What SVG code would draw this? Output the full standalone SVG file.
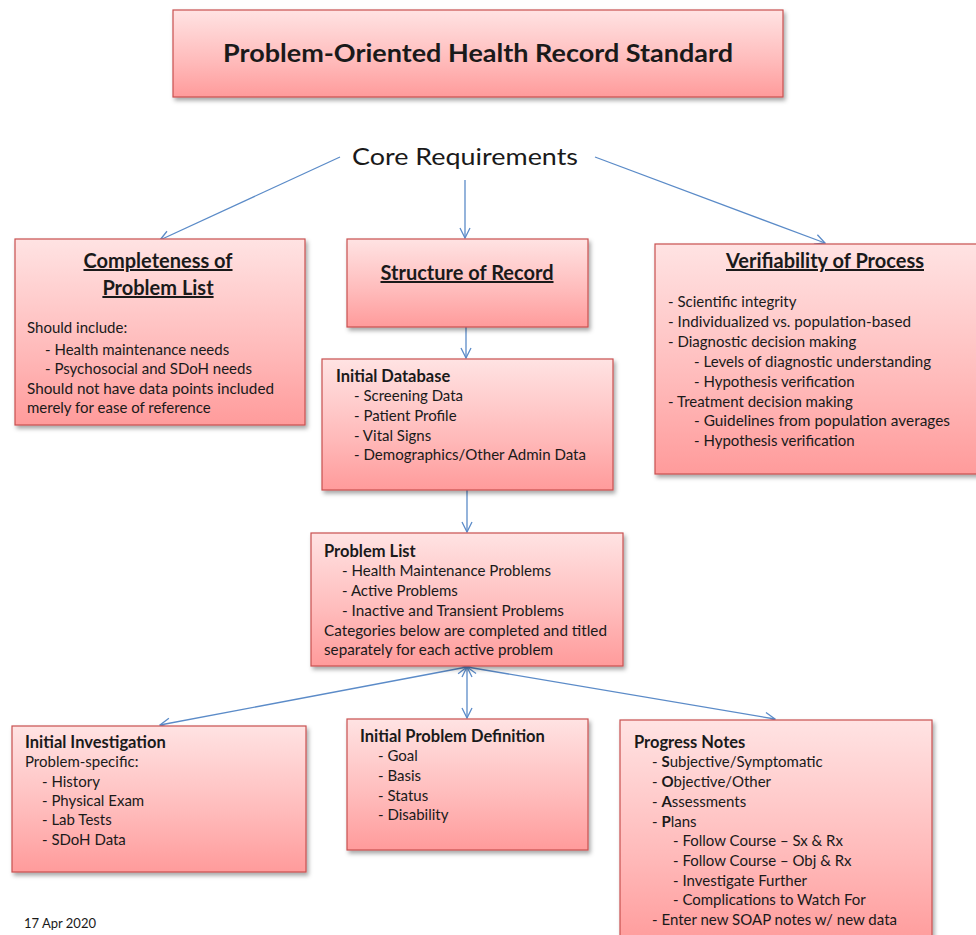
<svg xmlns="http://www.w3.org/2000/svg" width="976" height="935" viewBox="0 0 976 935">
<style>
.box{fill:url(#pink);stroke:#C9504F;stroke-width:1.2;filter:url(#sh)}
text{font-family:Lato,"Open Sans","Liberation Sans",sans-serif;fill:#1a1a1a}
.b{font-size:15px}
.h{font-size:16.5px;font-weight:bold}
.t{font-size:20px;font-weight:bold;text-decoration:underline}
.c{fill:none;stroke:#5B8BC8;stroke-width:1.3}
</style>
<defs>
<linearGradient id="pink" x1="0" y1="0" x2="0" y2="1">
<stop offset="0" stop-color="#FFE3E3"/>
<stop offset="0.6" stop-color="#FFBABA"/>
<stop offset="1" stop-color="#FF9B9B"/>
</linearGradient>
<filter id="sh" x="-5%" y="-5%" width="115%" height="120%">
<feDropShadow dx="2" dy="3" stdDeviation="2" flood-color="#000" flood-opacity="0.35"/>
</filter>
<marker id="ar" viewBox="0 0 12 12" refX="11" refY="6" markerWidth="12" markerHeight="12" markerUnits="userSpaceOnUse" orient="auto-start-reverse">
<path d="M1,1 L11,6 L1,11" fill="none" stroke="#5B8BC8" stroke-width="1.3"/>
</marker>
</defs>
<rect width="976" height="935" fill="#fff"/>

<g id="connectors">
<line class="c" x1="340" y1="157" x2="160" y2="240" marker-end="url(#ar)"/>
<line class="c" x1="465" y1="180" x2="465" y2="238" marker-end="url(#ar)"/>
<line class="c" x1="595" y1="157" x2="825" y2="243" marker-end="url(#ar)"/>
<line class="c" x1="466" y1="327" x2="466" y2="358" marker-end="url(#ar)"/>
<line class="c" x1="467" y1="490" x2="467" y2="532" marker-end="url(#ar)"/>
<line class="c" x1="467" y1="667" x2="160" y2="725" marker-start="url(#ar)" marker-end="url(#ar)"/>
<line class="c" x1="467" y1="667" x2="467" y2="718" marker-start="url(#ar)" marker-end="url(#ar)"/>
<line class="c" x1="467" y1="667" x2="775" y2="719" marker-start="url(#ar)" marker-end="url(#ar)"/>
</g>

<g id="title">
<rect class="box" x="173" y="10" width="610" height="87"/>
<text x="478" y="62" text-anchor="middle" font-size="25" font-weight="bold" textLength="510" lengthAdjust="spacingAndGlyphs">Problem-Oriented Health Record Standard</text>
</g>

<g id="core">
<text x="465" y="165" text-anchor="middle" font-size="24" textLength="226" lengthAdjust="spacingAndGlyphs">Core Requirements</text>
</g>

<g id="completeness">
<rect class="box" x="15" y="239" width="290" height="186"/>
<text class="t" x="158" y="268" text-anchor="middle">Completeness of</text>
<text class="t" x="158" y="295" text-anchor="middle">Problem List</text>
<text class="b" x="27" y="333">Should include:</text>
<text class="b" x="45" y="355">- Health maintenance needs</text>
<text class="b" x="45" y="374">- Psychosocial and SDoH needs</text>
<text class="b" x="27" y="394" textLength="247" lengthAdjust="spacingAndGlyphs">Should not have data points included</text>
<text class="b" x="27" y="413">merely for ease of reference</text>
</g>

<g id="structure">
<rect class="box" x="347" y="239" width="241" height="88"/>
<text class="t" x="467" y="280" text-anchor="middle">Structure of Record</text>
</g>

<g id="initial-database">
<rect class="box" x="322" y="359" width="291" height="131"/>
<text class="h" x="336" y="382">Initial Database</text>
<text class="b" x="354" y="401">- Screening Data</text>
<text class="b" x="354" y="421">- Patient Profile</text>
<text class="b" x="354" y="441">- Vital Signs</text>
<text class="b" x="354" y="460" textLength="232" lengthAdjust="spacingAndGlyphs">- Demographics/Other Admin Data</text>
</g>

<g id="verifiability">
<rect class="box" x="655" y="244" width="325" height="230"/>
<text class="t" x="825" y="268" text-anchor="middle">Verifiability of Process</text>
<text class="b" x="668" y="307">- Scientific integrity</text>
<text class="b" x="668" y="327" textLength="243" lengthAdjust="spacingAndGlyphs">- Individualized vs. population-based</text>
<text class="b" x="668" y="347">- Diagnostic decision making</text>
<text class="b" x="694" y="367" textLength="237" lengthAdjust="spacingAndGlyphs">- Levels of diagnostic understanding</text>
<text class="b" x="694" y="387">- Hypothesis verification</text>
<text class="b" x="668" y="407">- Treatment decision making</text>
<text class="b" x="694" y="426" textLength="256" lengthAdjust="spacingAndGlyphs">- Guidelines from population averages</text>
<text class="b" x="694" y="446">- Hypothesis verification</text>
</g>

<g id="problem-list">
<rect class="box" x="311" y="533" width="312" height="133"/>
<text class="h" x="324" y="557">Problem List</text>
<text class="b" x="342" y="576" textLength="209" lengthAdjust="spacingAndGlyphs">- Health Maintenance Problems</text>
<text class="b" x="342" y="596">- Active Problems</text>
<text class="b" x="342" y="616" textLength="222" lengthAdjust="spacingAndGlyphs">- Inactive and Transient Problems</text>
<text class="b" x="324" y="636" textLength="283" lengthAdjust="spacingAndGlyphs">Categories below are completed and titled</text>
<text class="b" x="324" y="655" textLength="229" lengthAdjust="spacingAndGlyphs">separately for each active problem</text>
</g>

<g id="initial-investigation">
<rect class="box" x="12" y="726" width="294" height="146"/>
<text class="h" x="25" y="748">Initial Investigation</text>
<text class="b" x="25" y="767">Problem-specific:</text>
<text class="b" x="42" y="787">- History</text>
<text class="b" x="42" y="806">- Physical Exam</text>
<text class="b" x="42" y="825">- Lab Tests</text>
<text class="b" x="42" y="845">- SDoH Data</text>
</g>

<g id="initial-problem-definition">
<rect class="box" x="347" y="719" width="241" height="131"/>
<text class="h" x="360" y="742">Initial Problem Definition</text>
<text class="b" x="378" y="761">- Goal</text>
<text class="b" x="378" y="781">- Basis</text>
<text class="b" x="378" y="801">- Status</text>
<text class="b" x="378" y="820">- Disability</text>
</g>

<g id="progress-notes">
<rect class="box" x="620" y="720" width="312" height="225"/>
<text class="h" x="634" y="748">Progress Notes</text>
<text class="b" x="652" y="767">- <tspan font-weight="bold">S</tspan>ubjective/Symptomatic</text>
<text class="b" x="652" y="787">- <tspan font-weight="bold">O</tspan>bjective/Other</text>
<text class="b" x="652" y="807">- <tspan font-weight="bold">A</tspan>ssessments</text>
<text class="b" x="652" y="827">- <tspan font-weight="bold">P</tspan>lans</text>
<text class="b" x="673" y="846">- Follow Course – Sx &amp; Rx</text>
<text class="b" x="673" y="866">- Follow Course – Obj &amp; Rx</text>
<text class="b" x="673" y="886">- Investigate Further</text>
<text class="b" x="673" y="905">- Complications to Watch For</text>
<text class="b" x="652" y="925" textLength="245" lengthAdjust="spacingAndGlyphs">- Enter new SOAP notes w/ new data</text>
</g>

<g id="date">
<text x="24" y="928" font-size="13">17 Apr 2020</text>
</g>
</svg>
